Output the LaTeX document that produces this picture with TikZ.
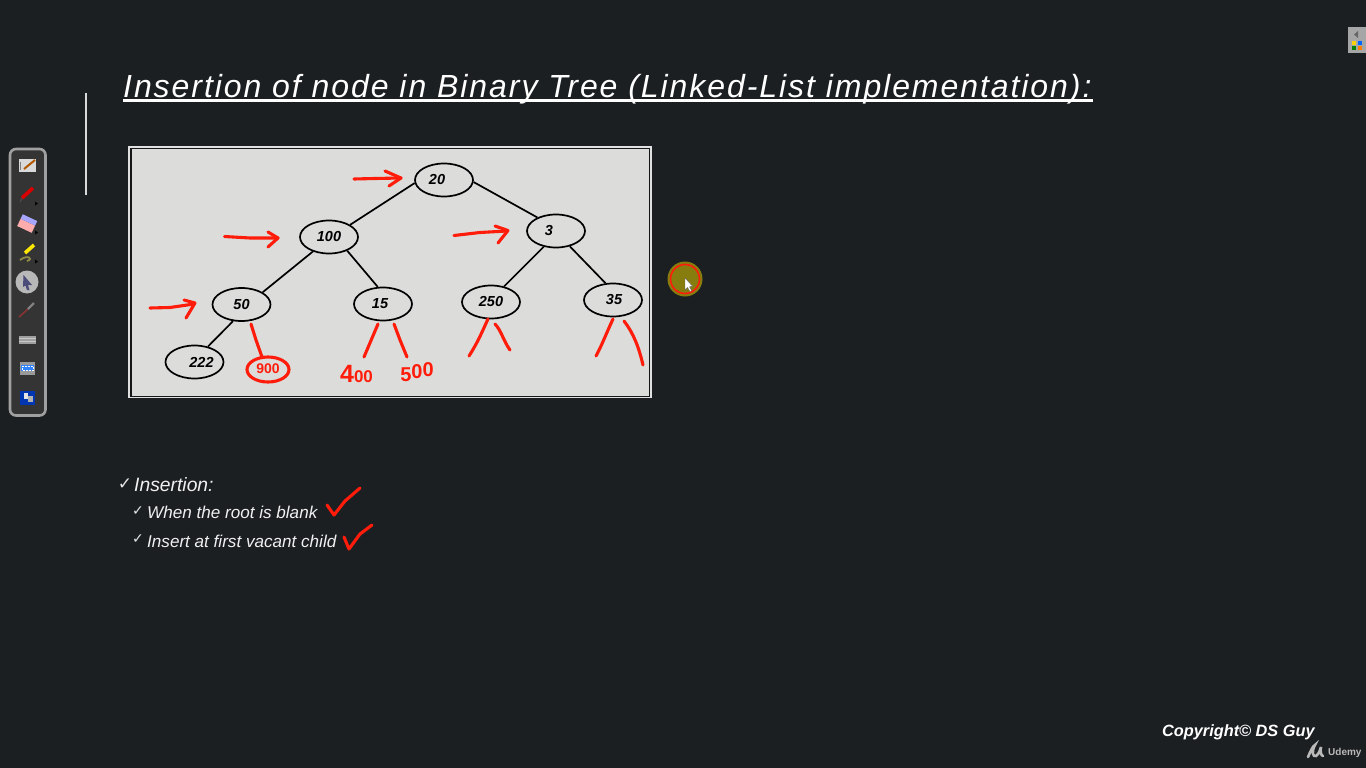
\documentclass[tikz,border=0pt]{standalone}
\usepackage{fontspec}
\setmainfont{Liberation Sans}
\newfontfamily\symfont{DejaVu Sans}
\newfontfamily\titlefont[LetterSpace=6.05,ItalicFont={Liberation Sans Italic}]{Liberation Sans}
\usetikzlibrary{shapes.geometric}
\definecolor{bgdark}{RGB}{28,31,34}
\definecolor{panel}{RGB}{220,221,219}
\definecolor{inkred}{RGB}{255,28,10}
\definecolor{barfill}{RGB}{52,52,53}
\definecolor{barline}{RGB}{160,160,160}
\definecolor{olive}{RGB}{135,125,15}
\newcommand{\fs}[1]{\fontsize{#1}{#1}\selectfont}
\newcommand{\shifted}[2]{\makebox[0pt]{\kern#1pt\relax\raisebox{-2pt}{#2}}}
\tikzset{
  treenode/.style={draw=black,line width=1.7pt,ellipse,fill=panel,minimum width=58pt,minimum height=33pt,inner sep=0pt,text=black,font=\fs{14.5}\bfseries\itshape},
  treeedge/.style={draw=black,line width=1.7pt},
  redink/.style={draw=inkred,line width=3.1pt,line cap=round,line join=round},
  handtext/.style={text=inkred,font=\fs{15}\bfseries,inner sep=0pt},
  bullet/.style={text=white!94!black,anchor=west,inner sep=0pt},
  tick/.style={text=white!90!black,inner sep=0pt,font=\symfont},
}
\begin{document}
\begin{tikzpicture}[x=1pt,y=-1pt]
\useasboundingbox (0,0) rectangle (1366,768);
\fill[bgdark] (0,0) rectangle (1366,768);

% title
\node[anchor=base west,inner sep=0pt,text=white] (title) at (123,97) {\titlefont\fs{32}\itshape Insertion of node in Binary Tree (Linked-List implementation):};
\draw[white,line width=2.4pt] (123,100.5) -- (1093,100.5);
\draw[white!85!black,line width=2pt] (85.5,93) -- (85.5,195);

% picture frame
\fill[white!88!black] (128,145.5) rectangle (652,398);
\fill[bgdark!70!black] (129.8,147.5) rectangle (650,397);
\fill[panel] (131.5,149) rectangle (649,396);

% tree
\node[treenode] (n20) at (444,180) {\shifted{-14}{20}};
\node[treenode] (n100) at (329,237) {\shifted{0}{100}};
\node[treenode] (n3) at (556,231) {\shifted{-14}{3}};
\node[treenode] (n50) at (241.5,304.5) {\shifted{0}{50}};
\node[treenode] (n15) at (383,304) {\shifted{-6}{15}};
\node[treenode] (n250) at (491,302) {\shifted{0}{250}};
\node[treenode] (n35) at (613,300) {\shifted{2}{35}};
\node[treenode] (n222) at (194.5,362) {\shifted{14}{222}};
\draw[treeedge] (n20.186) -- (n100.30);
\draw[treeedge] (n20.-4) -- (n3.144);
\draw[treeedge] (n100.222) -- (n50.30);
\draw[treeedge] (n100.-37) -- (n15.107);
\draw[treeedge] (n3.232) -- (n250.50);
\draw[treeedge] (n3.-48) -- (n35.114);
\draw[treeedge] (n50.243) -- (n222.49);

% red annotations: arrows
\draw[redink] (354,179) -- (375,178.5) -- (401,178);
\draw[redink] (385,171) -- (401,178) -- (389,186);
\draw[redink] (224.5,236.5) -- (250,238) -- (278,238);
\draw[redink] (268,232) -- (278,238) -- (268,247);
\draw[redink] (150,308) -- (170,307.5) -- (194,304);
\draw[redink] (184,300) -- (195,303) -- (186,318);
\draw[redink] (454,235.5) -- (480,232.5) -- (507,231);
\draw[redink] (495,226) -- (508,230.5) -- (498,243);

% red annotations: child strokes
\draw[redink] (251,324) -- (256,340) -- (262,357);
\draw[redink] (268,369.5) ellipse[x radius=21,y radius=12.5];
\draw[redink] (378,324) -- (364,357);
\draw[redink] (394,324) -- (400,340) -- (407,357);
\draw[redink] (488,319) .. controls (482,332) and (478,342) .. (469,356);
\draw[redink] (495,324) .. controls (501,330) and (504,342) .. (510,350);
\draw[redink] (613,319) .. controls (606,334) and (602,345) .. (596,356);
\draw[redink] (624,321) .. controls (634,334) and (639,348) .. (643,365);

% red handwritten numbers
\node[handtext] (h900) at (268,369) {\fs{14}900};
\node[handtext] (h400) at (356.5,373.5) {{\fs{25}4}{\fs{17}00}};
\node[handtext] (h500) at (417,372.5) {\fs{20}5\raisebox{3pt}{0}\raisebox{5pt}{0}};

% bullets
\node[tick,font=\symfont\fs{17}] (t1) at (125,484) {✓};
\node[bullet,font=\fs{19.3}\itshape] (b1) at (134,485) {Insertion:};
\node[tick,font=\symfont\fs{14}] (t2) at (138,511) {✓};
\node[bullet,font=\fs{17.1}\itshape] (b2) at (147,512) {When the root is blank};
\node[tick,font=\symfont\fs{14}] (t3) at (138,539) {✓};
\node[bullet,font=\fs{17.1}\itshape] (b3) at (147,541) {Insert at first vacant child};
\draw[redink] (327,505) -- (334,515) -- (345,501) -- (360,488);
\draw[redink] (344,537) -- (349,549) -- (360,534) -- (372,525);

% pointer circle
\fill[olive] (685,279) circle[radius=17.5];
\draw[inkred,line width=1.6pt] (685,279) circle[radius=14.5];
\fill[white,draw=black!60,line width=0.4pt] (685,278) -- (685,290) -- (687.5,287.5) -- (690,291.5) -- (691.5,290.5) -- (689.5,286.8) -- (692.5,286.2) -- cycle;

% toolbar
\draw[barline,fill=barfill,line width=2.6pt,rounded corners=6pt] (10,149) rectangle (45.5,415.5);
% icon 1
\fill[white!85!black] (18.5,158.5) rectangle (36,171.5);
\draw[black!50,line width=.6pt] (20,162) -- (20,170);
\draw[orange!70!black,line width=2pt] (24,169) -- (35,160);
% icon 2
\draw[red!85!black,line width=3.6pt] (22,198) -- (33,188);
\draw[black!70,line width=1.2pt] (20,202) -- (22,198.5);
\fill[black] (35,201.5) -- (38,203.5) -- (35,205.5) -- cycle;
% icon 3
\fill[pink!90!red,rotate around={-25:(27,224)}] (19,222) rectangle (35,230);
\fill[blue!35!white,rotate around={-25:(27,224)}] (19,217) rectangle (35,222);
\fill[black] (35,230.5) -- (38,232.5) -- (35,234.5) -- cycle;
% icon 4
\draw[yellow!90!orange,line width=3.6pt] (25,253) -- (34,245);
\draw[yellow!50!black,line width=1.8pt] (20,260) .. controls (28,254) and (34,259) .. (27,261);
\fill[black] (35,259.5) -- (38,261.5) -- (35,263.5) -- cycle;
% icon 5
\fill[white!72!black] (27,282) circle[radius=11.5];
\fill[black!55!blue!40!gray] (23.5,275) -- (32,285) -- (28,285) -- (29.5,290) -- (27,290) -- (25.5,285.5) -- (23,287) -- cycle;
% icon 6
\draw[black!45!red!60!gray,line width=1.6pt] (19,317) -- (28,309);
\draw[gray,line width=2.4pt] (28,309) -- (34,303);
% icon 7
\fill[gray!75] (19,335.5) rectangle (36,344);
\draw[gray!45,line width=.5pt] (19,338) -- (36,338) (19,341) -- (36,341);
% icon 8
\fill[gray!80] (20,362) rectangle (35,375);
\fill[blue!60!cyan!80!white] (21,365) rectangle (34,371);
\draw[white,densely dotted,line width=.5pt] (22,366) rectangle (33,370);
% icon 9
\fill[blue!70!cyan!70!black] (20,391) rectangle (35,405);
\fill[white!90!black] (24,393) rectangle (28,399);
\fill[white!70!black] (28,396) rectangle (33,402);

% top-right widget
\fill[gray!70] (1348,27) rectangle (1366,53);
\fill[black!60] (1354,34.5) -- (1358,31) -- (1358,38) -- cycle;
\fill[yellow!70!orange] (1352,41) rectangle (1356,45);
\fill[blue!60!cyan] (1358,41) rectangle (1362,45);
\fill[green!50!black] (1352,46.5) rectangle (1356,50.5);
\fill[orange] (1358,46.5) rectangle (1362,50.5);

% footer
\node[anchor=west,inner sep=0pt,text=white,font=\fs{16.3}\bfseries\itshape] (copy) at (1162,732.5) {Copyright© DS Guy};
\draw[gray!55,line width=2.6pt,line cap=round] (1308,757) .. controls (1311,750) and (1313,746) .. (1315,745) .. controls (1311,752) and (1313,757) .. (1316,756) .. controls (1319,754) and (1320,750) .. (1321,747) .. controls (1320,751) and (1321,756) .. (1323,756);
\node[anchor=west,inner sep=0pt,text=gray!55,font=\fs{10}\bfseries] (udemy) at (1328,752.5) {Udemy};
\end{tikzpicture}
\end{document}
